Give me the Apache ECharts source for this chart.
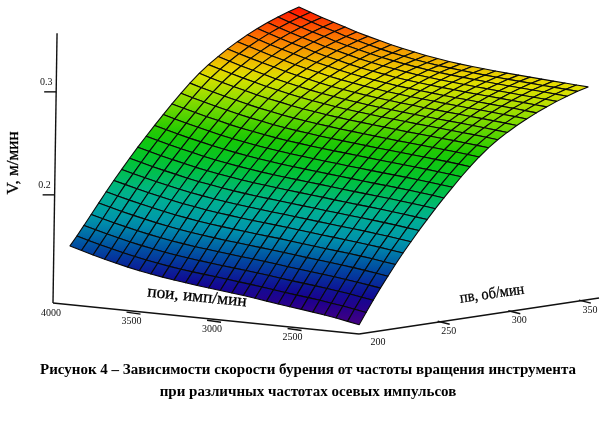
<!DOCTYPE html>
<html>
<head>
<meta charset="utf-8">
<style>html,body{margin:0;padding:0;background:#fff}#chart{width:608px;height:421px}</style>
<script src="https://cdn.jsdelivr.net/npm/echarts@6/dist/echarts.min.js"></script>
</head>
<body>
<div id="chart"></div>
<script>
const nPos = [3900,3828,3756,3684,3612,3540,3468,3396,3324,3252,3180,3108,3036,2964,2892,2820,2748,2676,2604,2532,2460,2388,2316,2244,2172,2100];
const nV = [190,194.8,199.7,204.7,209.9,215.1,220.4,225.9,231.4,237.1,242.9,248.8,254.8,260.9,267.1,273.4,279.9,286.4,293.1,299.8,306.7,313.6,320.7,327.9,335.2,342.6,350];
// V, m/min: one row per nPos, one column per nV
const speed = [
[.1520,.1607,.1699,.1795,.1895,.1994,.2093,.2189,.2286,.2382,.2476,.2569,.2662,.2753,.2843,.2929,.3011,.3082,.3146,.3207,.3263,.3315,.3362,.3405,.3444,.3479,.3510],
[.1487,.1575,.1668,.1765,.1866,.1965,.2064,.2159,.2256,.2352,.2446,.2538,.2631,.2722,.2811,.2896,.2977,.3048,.3112,.3172,.3227,.3278,.3324,.3367,.3405,.3440,.3470],
[.1455,.1545,.1638,.1736,.1837,.1936,.2035,.2130,.2227,.2322,.2416,.2508,.2601,.2692,.2781,.2865,.2945,.3016,.3078,.3138,.3192,.3242,.3288,.3330,.3368,.3402,.3432],
[.1425,.1516,.1611,.1709,.1810,.1909,.2008,.2103,.2200,.2295,.2388,.2480,.2573,.2663,.2752,.2836,.2915,.2985,.3047,.3106,.3159,.3209,.3254,.3295,.3333,.3367,.3396],
[.1397,.1489,.1584,.1683,.1785,.1884,.1982,.2078,.2175,.2269,.2363,.2455,.2546,.2637,.2725,.2809,.2888,.2957,.3018,.3076,.3129,.3178,.3223,.3263,.3301,.3334,.3363],
[.1371,.1464,.1560,.1659,.1760,.1859,.1958,.2053,.2149,.2243,.2337,.2429,.2519,.2609,.2697,.2780,.2858,.2926,.2986,.3044,.3096,.3144,.3188,.3228,.3264,.3296,.3325],
[.1347,.1441,.1538,.1637,.1738,.1837,.1936,.2031,.2127,.2221,.2314,.2406,.2496,.2586,.2673,.2755,.2833,.2901,.2960,.3017,.3068,.3116,.3159,.3199,.3234,.3266,.3294],
[.1327,.1421,.1519,.1618,.1719,.1818,.1917,.2012,.2108,.2202,.2294,.2385,.2475,.2565,.2651,.2733,.2811,.2877,.2936,.2992,.3043,.3090,.3133,.3171,.3206,.3237,.3265],
[.1308,.1403,.1501,.1601,.1701,.1800,.1898,.1993,.2089,.2183,.2275,.2365,.2455,.2544,.2630,.2711,.2788,.2854,.2912,.2967,.3017,.3063,.3105,.3143,.3178,.3208,.3235],
[.1291,.1387,.1485,.1585,.1685,.1784,.1882,.1977,.2072,.2166,.2258,.2348,.2438,.2526,.2611,.2692,.2768,.2833,.2891,.2945,.2995,.3040,.3082,.3119,.3154,.3183,.3210],
[.1276,.1372,.1471,.1571,.1671,.1770,.1868,.1962,.2057,.2151,.2242,.2332,.2422,.2510,.2595,.2675,.2751,.2816,.2873,.2927,.2975,.3020,.3061,.3098,.3132,.3161,.3187],
[.1262,.1359,.1458,.1558,.1658,.1757,.1854,.1949,.2043,.2137,.2228,.2318,.2407,.2495,.2580,.2660,.2734,.2799,.2855,.2909,.2957,.3001,.3042,.3079,.3112,.3140,.3166],
[.1249,.1347,.1445,.1545,.1646,.1745,.1842,.1936,.2031,.2124,.2215,.2305,.2394,.2482,.2566,.2646,.2720,.2784,.2840,.2893,.2940,.2984,.3024,.3061,.3094,.3122,.3147],
[.1236,.1334,.1433,.1533,.1634,.1733,.1830,.1924,.2019,.2112,.2203,.2293,.2381,.2469,.2552,.2632,.2706,.2770,.2825,.2878,.2925,.2968,.3008,.3045,.3077,.3105,.3130],
[.1223,.1321,.1421,.1522,.1622,.1721,.1819,.1913,.2007,.2100,.2191,.2281,.2369,.2457,.2541,.2620,.2694,.2757,.2812,.2865,.2912,.2955,.2995,.3031,.3064,.3092,.3116],
[.1209,.1308,.1408,.1509,.1611,.1710,.1807,.1901,.1995,.2089,.2180,.2270,.2358,.2446,.2529,.2608,.2682,.2745,.2801,.2853,.2900,.2943,.2983,.3019,.3051,.3080,.3104],
[.1194,.1294,.1395,.1496,.1598,.1697,.1794,.1889,.1983,.2077,.2168,.2258,.2346,.2434,.2518,.2597,.2671,.2734,.2789,.2842,.2889,.2932,.2971,.3008,.3040,.3069,.3093],
[.1178,.1279,.1380,.1482,.1584,.1684,.1782,.1876,.1971,.2064,.2156,.2246,.2335,.2423,.2506,.2585,.2659,.2723,.2778,.2830,.2878,.2921,.2961,.2997,.3030,.3058,.3083],
[.1162,.1263,.1366,.1469,.1571,.1671,.1769,.1864,.1959,.2052,.2144,.2234,.2323,.2411,.2495,.2574,.2648,.2712,.2767,.2820,.2867,.2910,.2950,.2987,.3020,.3049,.3074],
[.1147,.1249,.1353,.1456,.1559,.1658,.1757,.1852,.1947,.2041,.2133,.2223,.2313,.2401,.2485,.2564,.2638,.2702,.2757,.2810,.2858,.2901,.2941,.2978,.3011,.3040,.3066],
[.1132,.1236,.1340,.1443,.1546,.1646,.1745,.1841,.1936,.2030,.2122,.2213,.2302,.2390,.2475,.2554,.2628,.2692,.2748,.2801,.2848,.2892,.2932,.2969,.3003,.3032,.3058],
[.1117,.1222,.1326,.1430,.1533,.1634,.1733,.1829,.1925,.2019,.2111,.2202,.2292,.2380,.2464,.2544,.2618,.2682,.2738,.2791,.2839,.2882,.2923,.2961,.2994,.3024,.3050],
[.1100,.1205,.1311,.1415,.1519,.1620,.1720,.1816,.1912,.2006,.2099,.2190,.2280,.2368,.2453,.2533,.2608,.2672,.2728,.2781,.2829,.2873,.2914,.2951,.2986,.3015,.3042],
[.1082,.1189,.1295,.1400,.1504,.1606,.1706,.1803,.1899,.1993,.2086,.2178,.2268,.2357,.2442,.2522,.2597,.2662,.2718,.2771,.2819,.2864,.2905,.2943,.2978,.3008,.3035],
[.1061,.1169,.1276,.1383,.1487,.1589,.1690,.1787,.1884,.1979,.2072,.2164,.2255,.2344,.2429,.2510,.2585,.2650,.2706,.2760,.2809,.2853,.2895,.2934,.2969,.3000,.3027],
[.1040,.1149,.1258,.1365,.1470,.1573,.1674,.1772,.1869,.1964,.2058,.2150,.2241,.2331,.2416,.2497,.2573,.2638,.2695,.2749,.2798,.2843,.2886,.2925,.2960,.2992,.3020]
];
const nPosTicks = [3500, 3000, 2500];
const nPosLabels = [4000, 3500, 3000, 2500];
const nVTicks = [250, 300, 350];
const nVLabels = [200, 250, 300, 350];
const vTicks = [0.2, 0.3];
const caption = ['Рисунок 4 – Зависимости скорости бурения от частоты вращения инструмента', 'при различных частотах осевых импульсов'];

// box of the 3D axes
const pMax = 4000, pMin = 2100, vMin = 190, vMax = 360, zMin = 0.095, zMax = 0.357;
// no echarts-gl here, so the box is projected by hand onto a hidden x/y axis pair
function project(p, v, z) {
  const s = (pMax - p) / (pMax - pMin), t = (v - vMin) / (vMax - vMin), h = (z - zMin) * 1030;
  return [53 + 306 * s + 240 * t + 0.015 * h, 303 + 31 * s - 36 * t - h];
}

const ramp = ['#50007f', '#140091', '#0046a0', '#0096ae', '#00b48c', '#00c332', '#19c800', '#7ddc00', '#e6e100', '#fa8200', '#ff0a00'];
const colorOf = z => echarts.color.lerp(Math.min(1, Math.max(0, (z - 0.1) / 0.252)), ramp);

// far cells first
const cells = [];
for (let i = 0; i < nPos.length - 1; i++) {
  for (let j = nV.length - 2; j >= 0; j--) cells.push([i, j]);
}

const serif = '"Liberation Serif"';
function seg(api, a, b, w) {
  const p = api.coord(a), q = api.coord(b);
  return { type: 'line', shape: { x1: p[0], y1: p[1], x2: q[0], y2: q[1] }, style: { stroke: '#111', lineWidth: w } };
}
function tickLabel(api, pt, dx, dy, text) {
  const p = api.coord(pt);
  return { type: 'text', x: p[0] + dx, y: p[1] + dy, style: { text, font: '10px ' + serif, fill: '#111', align: 'center', verticalAlign: 'middle' } };
}
function axisTitle(api, pt, text, rot, size, sx) {
  const p = api.coord(pt);
  return { type: 'text', x: p[0], y: p[1], rotation: rot, scaleX: sx, style: { text, font: size + 'px ' + serif, fill: '#000', stroke: '#000', lineWidth: 0.3, align: 'center', verticalAlign: 'middle' } };
}
function offset(pt, dx, dy) { return [pt[0] + dx, pt[1] + dy]; }

const chart = echarts.init(document.getElementById('chart'), null, { renderer: 'canvas' });
chart.setOption({
  animation: false,
  title: [
    { text: caption[0], left: 303, top: 358, textAlign: 'center', textStyle: { fontFamily: serif, fontSize: 15, fontWeight: 'bold', color: '#000' } },
    { text: caption[1], left: 303, top: 380, textAlign: 'center', textStyle: { fontFamily: serif, fontSize: 15, fontWeight: 'bold', color: '#000' } }
  ],
  grid: { left: 0, right: 0, top: 0, bottom: 0 },
  xAxis: { type: 'value', min: 0, max: 608, show: false },
  yAxis: { type: 'value', min: 0, max: 421, inverse: true, show: false },
  series: [
    {
      // axes and their text sit under the surface
      type: 'custom',
      coordinateSystem: 'cartesian2d',
      data: [0],
      clip: false,
      z: 2,
      renderItem(params, api) {
        const kids = [
          seg(api, project(pMax, vMin, zMin), project(pMin, vMin, zMin), 1.4),
          seg(api, project(pMin, vMin, zMin), project(pMin, vMax, zMin), 1.4),
          seg(api, project(pMax, vMin, zMin), project(pMax, vMin, zMax), 1.4)
        ];
        nPosTicks.forEach(p => {
          const a = project(p, vMin, zMin);
          kids.push(seg(api, offset(a, -7, 1), offset(a, 7, 3), 1.4));
        });
        nPosLabels.forEach(p => kids.push(tickLabel(api, project(p, vMin, zMin), -2, 10, String(p))));
        nVTicks.forEach(v => {
          const a = project(pMin, v, zMin);
          kids.push(seg(api, offset(a, -6, 0), offset(a, 6, 3), 1.4));
        });
        nVLabels.forEach(v => kids.push(tickLabel(api, project(pMin, v, zMin), 5, 10, String(v))));
        vTicks.forEach(z => {
          const a = project(pMax, vMin, z);
          kids.push(seg(api, offset(a, -12, 0), a, 1.4), tickLabel(api, a, -10, -9, String(z)));
        });
        kids.push(axisTitle(api, [197, 297], 'пои, имп/мин', -0.1, 17, 1.02));
        kids.push(axisTitle(api, [492, 294], 'пв, об/мин', 0.14, 16, 0.9));
        kids.push(axisTitle(api, [14, 163], 'V, м/мин', Math.PI / 2, 17, 1));
        return { type: 'group', children: kids };
      }
    },
    {
      type: 'custom',
      coordinateSystem: 'cartesian2d',
      data: cells,
      clip: false,
      z: 3,
      renderItem(params, api) {
        const i = api.value(0), j = api.value(1);
        const corners = [[i, j], [i + 1, j], [i + 1, j + 1], [i, j + 1]];
        const pts = corners.map(([a, b]) => api.coord(project(nPos[a], nV[b], speed[a][b])));
        const zs = corners.map(([a, b]) => speed[a][b]);
        return {
          type: 'polygon',
          shape: { points: pts },
          style: {
            fill: new echarts.graphic.LinearGradient(0, 0, 0, 1, [
              { offset: 0, color: colorOf(Math.max(...zs)) },
              { offset: 1, color: colorOf(Math.min(...zs)) }
            ]),
            stroke: '#0a0a0a',
            lineWidth: 1.1,
            lineJoin: 'round'
          }
        };
      }
    }
  ]
});
</script>
</body>
</html>
